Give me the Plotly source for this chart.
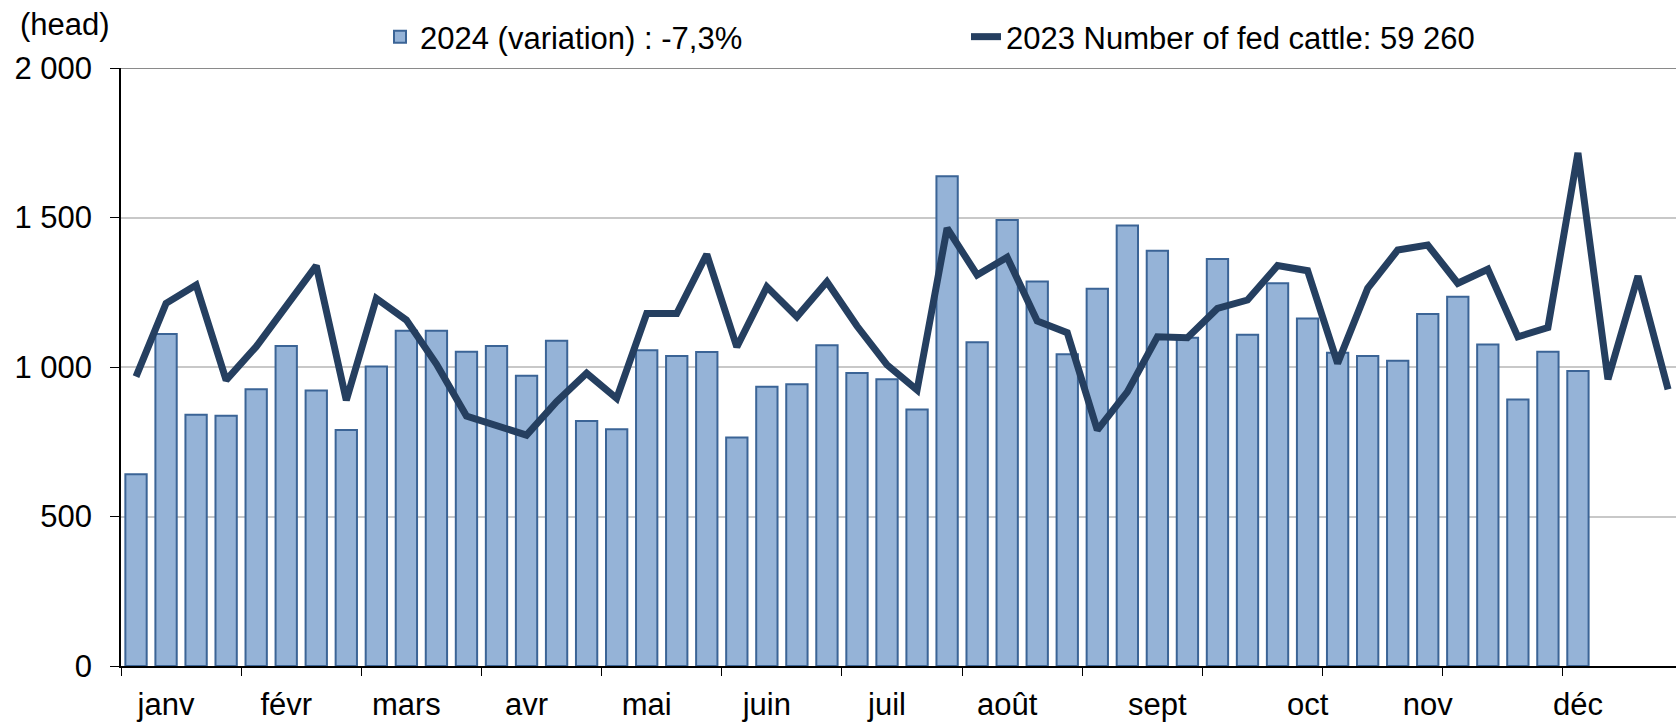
import plotly.graph_objects as go

# weekly fed cattle (head)
weeks_2024 = [641, 1110, 840, 837, 926, 1070, 921, 789, 1002, 1121,
              1121, 1051, 1070, 971, 1088, 819, 792, 1056, 1037, 1050,
              764, 934, 942, 1073, 980, 959, 858, 1638, 1083, 1492,
              1286, 1043, 1262, 1473, 1389, 1098, 1361, 1108, 1280, 1162,
              1048, 1037, 1021, 1177, 1235, 1075, 891, 1051, 987]
weeks_2023 = [968, 1213, 1274, 956, 1068, 1207, 1339, 889, 1229, 1157,
              1010, 836, 805, 772, 884, 979, 895, 1179, 1179, 1377,
              1067, 1268, 1168, 1285, 1137, 1007, 923, 1464, 1308, 1367,
              1154, 1115, 789, 917, 1101, 1098, 1196, 1224, 1339, 1322,
              1012, 1263, 1391, 1408, 1280, 1327, 1101, 1132, 1716, 959,
              1304, 925]
month_labels = ["janv", "févr", "mars", "avr", "mai", "juin",
                "juil", "août", "sept", "oct", "nov", "déc"]
month_weeks = [1, 5, 9, 13, 17, 21, 25, 29, 34, 39, 43, 48]
y_ticks = [0, 500, 1000, 1500, 2000]

name_2024 = "2024 (variation) : -7,3%"
name_2023 = "2023 Number of fed cattle: 59 260"

W, H = 1676, 722
ml, mr, mt, mb = 121, 0, 68, 56
pw = W - ml - mr
ph = H - mt - mb

font = "Liberation Sans, Arial, sans-serif"

fig = go.Figure()
fig.add_trace(go.Bar(
    x=list(range(len(weeks_2024))), y=weeks_2024, name=name_2024,
    marker=dict(color="#95B3D7", line=dict(color="#3B6496", width=2)),
    legend="legend", showlegend=True,
))
fig.add_trace(go.Scatter(
    x=list(range(len(weeks_2023))), y=weeks_2023, name=name_2023,
    mode="lines", line=dict(color="#253F60", width=7),
    legend="legend2", showlegend=True,
))

fig.add_shape(type="line", xref="paper", yref="y", x0=0, x1=1, y0=2000, y1=2000,
              line=dict(color="#8A8A8A", width=2), layer="above")

fig.add_annotation(text="(head)", xref="paper", yref="paper",
                   x=(18 - ml) / pw, y=1 + (mt - 25) / ph,
                   xanchor="left", yanchor="middle", showarrow=False,
                   font=dict(size=31, color="black", family=font))

fig.update_layout(
    width=W, height=H,
    margin=dict(l=ml, r=mr, t=mt, b=mb),
    paper_bgcolor="white", plot_bgcolor="white",
    font=dict(family=font, size=31, color="black"),
    bargap=0.29,
    separators=", ",
    showlegend=True,
    legend=dict(orientation="h", x=(380 - ml) / pw, y=1 + (mt - 37) / ph,
                xanchor="left", yanchor="middle", bgcolor="rgba(0,0,0,0)",
                font=dict(size=31)),
    legend2=dict(orientation="h", x=(966 - ml) / pw, y=1 + (mt - 37) / ph,
                 xanchor="left", yanchor="middle", bgcolor="rgba(0,0,0,0)",
                 font=dict(size=31)),
    xaxis=dict(
        range=[-0.5, -0.5 + pw / 30.04],
        tickmode="array", tickvals=month_weeks, ticktext=month_labels,
        ticks="", ticklabelstandoff=10,
        showline=True, linecolor="black", linewidth=1.5,
        showgrid=False, zeroline=False,
        minor=dict(tickmode="linear", tick0=-0.5, dtick=4, ticks="outside",
                   ticklen=8, tickcolor="black", tickwidth=1, showgrid=False),
    ),
    yaxis=dict(
        range=[0, 2000],
        tickmode="array", tickvals=y_ticks, tickformat=",",
        ticks="outside", ticklen=9, tickcolor="black", tickwidth=1,
        ticklabelstandoff=12,
        showline=True, linecolor="black", linewidth=1.5,
        showgrid=True, gridcolor="#C8C8C8", gridwidth=2,
        zeroline=False,
    ),
)

fig.write_html("out.html", config={"displayModeBar": False},
               post_script="document.body.style.margin='0';")
